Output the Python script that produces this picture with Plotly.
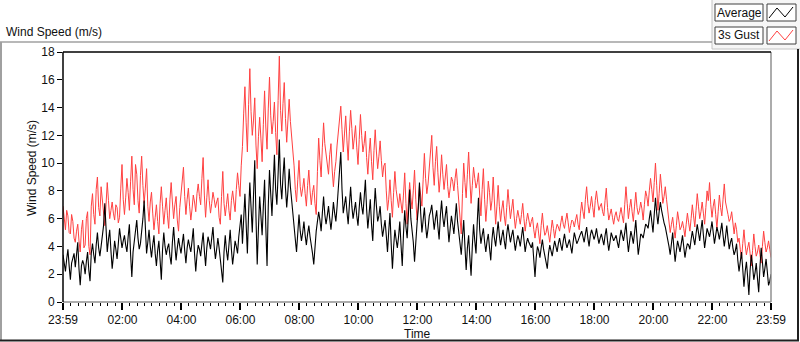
import plotly.graph_objects as go

# ---------------- data ----------------
tick_minutes = [0, 121, 241, 361, 481, 601, 721, 841, 961, 1081, 1201, 1321, 1440]
tick_labels = ["23:59", "02:00", "04:00", "06:00", "08:00", "10:00", "12:00",
               "14:00", "16:00", "18:00", "20:00", "22:00", "23:59"]
y_ticks = [0, 2, 4, 6, 8, 10, 12, 14, 16, 18]

# 3s gust, one reading every 2.5 minutes from 23:59
gust = [
    6.9, 6.1, 5.2, 6.6, 6.2, 5.0, 4.9, 6.3, 5.8, 4.6, 4.3, 5.1,
    5.6, 4.4, 3.6, 5.2, 5.9, 3.9, 4.1, 6.0, 6.5, 4.0, 3.4, 6.9,
    7.8, 6.3, 5.6, 8.1, 9.0, 6.8, 6.2, 8.3, 7.4, 6.0, 5.5, 7.0,
    8.6, 7.3, 6.0, 6.6, 7.2, 6.4, 5.9, 7.0, 6.8, 5.7, 6.1, 8.2, 9.9, 7.4,
    6.3, 7.5, 8.9, 7.9, 6.6, 8.7, 10.5, 8.1, 7.0, 9.9, 9.2, 7.3, 6.4, 9.1, 10.5, 8.4, 7.1, 8.2, 9.6, 6.9, 5.8, 7.2,
    7.9, 6.4, 5.2, 6.1, 7.0, 5.8, 4.9, 7.1, 8.3, 6.9, 5.6, 6.6, 7.5, 6.2, 5.3, 7.4, 8.6, 7.2, 6.0, 7.0, 7.6, 5.9, 5.1, 6.8, 8.0, 8.8,
    9.7, 7.6, 6.3, 7.4, 8.2, 6.9, 5.9, 6.7, 7.7, 7.2, 6.5, 7.8, 8.5, 7.6, 7.0, 8.9, 10.4, 7.7, 6.1, 7.5, 8.8, 7.3, 6.4, 7.1, 7.9, 7.4, 6.8, 7.2,
    7.5, 6.1, 5.6, 7.6, 9.4, 7.1, 6.2, 7.0, 7.8, 6.6, 5.9, 7.3, 8.0, 7.2, 6.5, 8.1, 9.3, 8.4,
    7.6, 9.8, 11.2, 13.6, 15.5, 12.9, 10.8, 14.2, 16.8, 13.7, 12.0, 13.1, 14.7, 11.3, 9.6, 11.9, 13.3, 11.8, 10.1, 12.8,
    15.2, 12.6, 11.0, 13.9, 16.2, 13.4, 12.1, 13.0, 14.4, 12.2, 10.6, 14.5, 17.7, 13.8,
    12.3, 14.3, 15.8, 13.2, 11.5, 13.1, 14.6, 13.0, 12.0, 10.9,
    9.8, 8.1, 7.2, 8.8, 10.2, 8.3, 7.6, 8.2, 8.9, 7.8, 6.9, 8.4, 9.5, 8.0,
    7.0, 7.9, 8.4, 7.1, 6.3, 9.4,
    11.8, 10.2, 9.0, 11.1, 12.9, 11.4, 10.5, 9.7,
    9.2, 10.6, 11.4, 9.5, 8.3, 9.4, 10.1, 11.3,
    12.2, 13.0, 14.1, 12.4, 10.8, 12.1,
    13.4, 11.6, 10.2, 12.3, 13.8, 12.5, 11.0, 11.8, 12.7, 11.1, 9.9, 11.7, 13.5, 12.0, 10.8, 11.4,
    12.3, 10.4, 9.2, 10.7, 11.8, 10.1, 8.8, 10.9, 12.4, 10.8, 9.6, 10.5, 11.6, 10.2, 9.0, 9.8,
    10.0, 8.0, 6.6, 7.4, 8.8, 7.3, 6.1, 7.9, 9.4, 8.1, 7.2, 6.8, 7.8, 7.0, 6.4, 7.7,
    9.3, 7.1, 5.6, 7.2, 8.6, 7.5, 6.7, 8.0, 9.5, 7.4, 5.9, 6.9, 8.4, 7.7,
    6.9, 8.8, 10.7, 8.9, 7.8, 8.5, 9.6, 10.4,
    12.0, 9.7, 8.4, 10.1, 11.2, 9.3, 7.9, 9.0, 10.6, 9.2,
    8.1, 9.0, 9.9, 8.3, 7.5, 8.2, 9.0, 8.7, 8.0, 8.9, 9.6, 8.4, 7.4, 6.1,
    4.9, 7.8, 10.0, 8.6, 7.5, 9.2, 10.8, 8.8, 7.1, 8.4, 9.7, 8.9, 8.2, 8.6, 9.3, 7.7,
    6.2, 8.1, 9.6, 7.4, 5.8, 7.0, 8.7, 7.9, 6.6, 7.3, 9.0, 7.2, 5.6, 6.9,
    8.4, 6.9, 5.8, 6.7, 7.3, 6.2, 5.5, 6.8, 8.1, 7.0, 6.0, 6.7,
    7.4, 6.2, 5.3, 6.0, 6.6, 6.1, 5.6, 6.3, 7.1, 6.0, 5.1, 5.8, 6.4, 5.9, 5.4, 5.8,
    6.1, 5.2, 4.6, 5.3, 5.7, 4.9, 4.2, 5.5, 6.4, 5.4, 4.8, 5.0, 5.5, 4.9, 4.3, 5.1, 5.9, 5.3, 4.6, 5.2, 5.6, 5.4,
    5.1, 5.7, 6.2, 5.6, 5.3, 5.9, 6.4, 5.7, 5.0, 5.5, 5.9, 5.8, 5.4, 5.9, 6.3, 5.6, 5.2, 6.4,
    7.2, 6.5, 6.0, 7.4, 8.3, 7.1, 6.4, 6.9, 7.6, 6.8, 6.1, 7.3, 8.0, 7.2, 6.6, 6.9,
    7.1, 6.5, 6.2, 7.3, 8.2, 6.8, 5.9, 6.3,
    6.7, 6.1, 5.6, 6.2, 6.5, 6.0, 5.8, 6.3, 6.8, 6.2,
    5.7, 7.0, 8.3, 7.1, 6.0, 6.8, 7.4, 6.5, 5.8, 6.9, 7.9, 6.8, 6.3, 6.6, 7.2, 6.7, 5.9, 7.0, 8.0, 7.6,
    6.9, 8.0, 8.9, 8.1, 7.2, 8.6, 10.0, 8.4, 6.6, 7.8, 9.2, 8.2, 7.1, 7.6, 8.3, 7.4,
    6.7, 5.8, 5.0, 5.6, 6.1, 5.3, 4.6, 5.5, 6.5, 5.9, 5.2, 5.4, 5.8, 5.3, 4.7, 5.6, 6.4, 5.7, 5.1, 6.0,
    7.0, 6.2, 5.4, 6.6, 7.8, 6.9, 6.0, 6.5, 7.2, 6.4, 5.6, 6.8, 8.0, 7.3, 8.6, 7.0, 6.1, 6.9, 7.4, 6.3,
    5.3, 6.5, 7.7, 6.8, 6.2, 7.4, 8.5, 7.2, 6.6, 6.3,
    5.8, 6.0, 6.5, 5.5, 4.9, 5.7, 5.2, 4.3,
    4.6, 3.8, 3.1, 4.2, 5.2, 4.1, 3.4, 3.9, 4.3, 3.5, 2.6, 3.7, 4.9, 4.0, 3.3, 3.6, 4.1, 3.4, 2.8, 4.0,
    5.1, 4.3, 3.6, 3.9, 4.4, 3.8, 3.2,
]

# average wind speed, same timestamps
average = [
    3.4, 2.9, 2.2, 3.1, 3.8, 2.6, 1.6, 2.8, 3.1, 3.5, 2.5, 3.3, 4.3, 2.4, 1.2, 2.6, 3.0, 2.7, 2.0, 2.9, 3.6, 2.3, 1.5, 3.5,
    4.2, 3.4, 2.8, 4.1, 5.0, 3.9, 3.3, 4.0, 4.6, 5.5, 7.1, 4.8, 3.6, 4.5, 5.2, 3.7, 2.4, 3.3, 4.4, 3.8, 3.1, 4.2, 5.3, 4.6, 3.9, 4.4,
    4.8, 4.1, 3.6, 4.7, 5.6, 3.4, 1.8, 3.6, 4.5, 5.0, 5.9, 4.6, 3.8, 4.2, 4.9, 6.0, 7.3, 5.1, 3.5, 4.3, 5.2, 4.0,
    3.2, 4.1, 4.8, 3.5, 2.6, 3.7, 4.4, 3.0, 1.6, 3.8, 5.0, 4.0, 3.4, 3.9, 4.2, 3.3, 2.7, 4.3, 5.4, 4.1, 3.0, 3.9, 4.6, 4.0, 3.5, 4.2,
    4.9, 3.7, 2.8, 3.9, 4.5, 4.0, 3.6, 4.4, 5.3, 3.5, 2.2, 3.4, 4.1, 3.8, 3.3, 4.2, 5.0, 3.7, 2.6, 3.9, 4.7, 4.3, 3.8, 4.6, 5.4, 4.0, 3.1, 3.8,
    4.6, 3.9, 3.2, 2.5, 1.4, 3.6, 4.8, 3.7, 3.0, 4.1, 5.2, 3.8, 2.7, 3.5, 4.4, 4.0, 3.5, 4.7,
    5.4, 6.3, 4.2, 5.9, 7.8, 5.6, 3.5, 6.4, 8.6, 6.8, 5.0, 7.7, 10.2, 6.1, 2.7, 5.3, 7.6, 6.2, 4.8, 6.9,
    8.8, 5.4, 2.6, 6.9, 9.5, 7.8, 6.2, 8.4, 10.6, 8.1, 7.0, 9.2, 11.7, 8.5,
    7.4, 9.1, 10.4, 8.2, 6.8, 8.0, 9.6, 8.3, 7.2, 6.1,
    5.0, 4.5, 3.6, 5.2, 6.3, 5.1, 4.4, 5.0, 5.8, 4.8, 4.1, 4.9, 5.5, 4.7,
    4.2, 3.5, 2.7, 4.3, 5.1, 5.8,
    6.5, 5.9, 5.1, 6.4, 7.6, 6.3, 5.6, 6.2, 6.9, 6.0, 5.2, 6.1, 7.2, 6.4, 5.8, 6.9,
    8.0, 9.3, 10.8, 8.1, 6.4, 7.0,
    7.6, 6.5, 5.6, 7.0, 8.3, 6.9, 6.0, 6.6, 7.2, 6.2, 5.5, 6.8, 7.9, 6.9, 6.3, 7.5,
    8.8, 6.7, 5.3, 6.3, 7.4, 5.6, 4.4, 6.5, 8.2, 6.9, 5.8, 6.2, 6.9, 5.6, 4.7, 5.3,
    5.9, 4.8, 3.6, 5.1, 6.4, 4.2, 2.4, 4.0, 5.2, 4.5, 3.9, 4.7, 5.8, 4.1, 2.6, 4.9,
    6.6, 5.4, 4.6, 6.3, 8.1, 6.0, 5.2, 4.3, 2.9, 4.5, 5.6, 6.7, 8.6, 6.4,
    5.0, 5.9, 6.8, 5.5, 4.6, 5.3, 6.2, 6.5,
    7.0, 6.1, 5.2, 6.0, 6.6, 5.4, 4.5, 6.2, 7.3, 6.1,
    5.4, 6.2, 6.9, 5.5, 4.3, 5.3, 6.2, 5.6, 4.9, 6.0, 7.1, 5.8, 5.0, 4.1,
    3.4, 4.7, 5.9, 4.0, 2.3, 3.9, 4.8, 3.2, 1.9, 4.0, 5.6, 4.4, 3.5, 5.7, 7.5, 5.2,
    4.2, 4.8, 5.3, 4.3, 3.6, 4.4, 4.9, 3.9, 3.0, 4.5, 5.4, 4.6, 4.0, 4.9,
    5.8, 4.8, 4.1, 4.7, 5.2, 4.4, 3.8, 4.9, 5.6, 4.9, 4.3, 4.8,
    5.2, 4.4, 3.7, 4.3, 4.8, 4.5, 4.0, 4.7, 5.4, 4.5, 3.6, 4.2, 4.6, 4.3, 4.1, 3.9,
    4.3, 3.1, 1.8, 3.2, 4.0, 3.7, 3.2, 3.9, 4.5, 3.8, 3.4, 3.0, 2.4, 3.5, 4.1, 3.7, 3.3, 3.9, 4.4, 4.0, 3.6, 4.2,
    4.6, 4.1, 3.7, 4.4, 4.9, 4.3, 3.9, 4.2, 4.5, 4.0, 3.5, 4.3, 5.0, 4.6, 4.2, 4.4, 4.7, 4.9,
    5.1, 4.7, 4.3, 4.9, 5.4, 4.6, 4.0, 4.8, 5.2, 4.9, 4.5, 4.8, 5.3, 4.7, 4.2, 4.6,
    4.9, 4.5, 4.1, 4.8, 5.3, 4.4, 3.7, 4.3, 5.0, 4.7, 4.4, 4.6, 4.8, 4.3, 3.9, 4.6, 5.2, 4.8,
    4.4, 5.0, 5.7, 4.5, 3.6, 4.4, 5.1, 4.7, 4.2, 5.0, 5.9, 4.6, 3.4, 4.1, 4.9, 4.8, 4.6, 5.1, 5.6, 5.5,
    5.3, 6.0, 6.6, 5.8, 5.0, 6.3, 7.5, 6.4, 5.6, 6.5, 7.2, 6.6, 6.0, 5.7, 5.4, 5.0,
    4.6, 4.0, 3.4, 4.3, 5.0, 3.9, 2.9, 3.7, 4.4, 4.0, 3.6, 4.2, 4.8, 4.0, 3.2, 3.8, 4.2, 4.1, 3.8, 4.5,
    5.1, 4.6, 4.1, 4.9, 5.6, 5.0, 4.4, 5.2, 5.9, 4.8, 3.9, 4.6, 5.3, 5.0, 4.7,
    5.2, 5.8, 5.0, 4.2, 4.8, 5.4, 5.0, 4.5, 5.1, 5.7, 4.8, 4.0, 4.7, 5.5, 4.6,
    3.8, 4.3, 4.6, 3.9, 3.4, 3.7, 4.2, 3.0,
    2.2, 2.9, 3.6, 2.4, 1.1, 2.2, 2.9, 1.8, 0.5, 2.3, 3.4, 2.6, 1.6, 2.1,
    2.8, 1.7, 0.7, 2.5, 3.9, 2.9, 1.8, 2.4, 3.1, 2.2, 1.2, 1.5, 2.0,
]

# ---------------- layout helpers (pixel -> paper) ----------------
W, H = 800, 342
L, R, T, B = 63, 771, 52, 302


def px(x):
    return (x - L) / (R - L)


def py(y):
    return (B - y) / (B - T)


FONT = "Liberation Sans"
TXT = "#101010"


def xs(series):
    n = len(series)
    return [i * 1440 / (n - 1) for i in range(n)]


fig = go.Figure()
fig.add_trace(go.Scatter(x=xs(gust), y=gust, mode="lines", name="3s Gust",
                         line=dict(color="#ff4040", width=1)))
fig.add_trace(go.Scatter(x=xs(average), y=average, mode="lines", name="Average",
                         line=dict(color="#000000", width=1.1)))

shapes = []


def line(x0, y0, x1, y1, color, width):
    shapes.append(dict(type="line", xref="paper", yref="paper",
                       x0=px(x0), y0=py(y0), x1=px(x1), y1=py(y1),
                       line=dict(color=color, width=width), layer="above"))


def rect(x0, y0, x1, y1, fill, color, width, layer="above"):
    shapes.append(dict(type="rect", xref="paper", yref="paper",
                       x0=px(x0), y0=py(y0), x1=px(x1), y1=py(y1),
                       fillcolor=fill, line=dict(color=color, width=width), layer=layer))


# outer panel frame
line(0, 42, 712, 42, "#a0a0a0", 1.5)
line(1, 42, 1, 341, "#a0a0a0", 2)
line(0, 340.5, 799, 340.5, "#202020", 2)
line(798, 49, 798, 341, "#202020", 2)
# legend panel
rect(712, -2, 802, 49, "#f6f6f6", "#c4c4c4", 1, layer="below")
# plot area frame
line(R, T, R, B, "#909090", 1.5)
line(L, B, R, B, "#909090", 1.5)
line(L, T, R, T, "#000000", 1.5)
line(L, T, L, B, "#000000", 1.5)
# legend boxes
for (y0, y1, col) in [(4, 21, "#000000"), (27, 44, "#ff4040")]:
    rect(715, y0, 763, y1, "#ffffff", "#404040", 1)
    rect(767, y0, 796, y1, "#ffffff", "#404040", 1)
    pts = [(769, y1 - 3), (777, y0 + 4), (785, y1 - 4), (793, y0 + 3)]
    path = "M " + " L ".join(f"{px(a)},{py(b)}" for a, b in pts)
    shapes.append(dict(type="path", xref="paper", yref="paper", path=path,
                       line=dict(color=col, width=1), layer="above"))

annotations = [
    dict(text="Wind Speed (m/s)", x=px(4), y=py(32), xref="paper", yref="paper",
         xanchor="left", yanchor="middle", showarrow=False,
         font=dict(family=FONT, size=12, color=TXT)),
    dict(text="Average", x=px(739), y=py(12.5), xref="paper", yref="paper",
         xanchor="center", yanchor="middle", showarrow=False,
         font=dict(family=FONT, size=12, color=TXT)),
    dict(text="3s Gust", x=px(739), y=py(35.5), xref="paper", yref="paper",
         xanchor="center", yanchor="middle", showarrow=False,
         font=dict(family=FONT, size=12, color=TXT)),
    dict(text="Wind Speed (m/s)", x=px(32), y=py(168), xref="paper", yref="paper",
         xanchor="center", yanchor="middle", showarrow=False, textangle=-90,
         font=dict(family=FONT, size=12, color=TXT)),
    dict(text="Time", x=px(417), y=py(334), xref="paper", yref="paper",
         xanchor="center", yanchor="middle", showarrow=False,
         font=dict(family=FONT, size=12, color=TXT)),
]

fig.update_layout(
    width=W, height=H,
    margin=dict(l=L, r=W - R, t=T, b=H - B, pad=0),
    paper_bgcolor="white", plot_bgcolor="white",
    showlegend=False,
    shapes=shapes, annotations=annotations,
    font=dict(family=FONT, size=12, color=TXT),
    xaxis=dict(range=[0, 1440], tickmode="array", tickvals=tick_minutes,
               ticktext=tick_labels, ticks="outside", ticklen=7, tickwidth=2,
               tickcolor="#000000", showgrid=False, zeroline=False, showline=False,
               tickfont=dict(family=FONT, size=12, color=TXT),
               minor=dict(tickmode="linear", tick0=1, dtick=15, ticks="outside",
                          ticklen=3, tickwidth=1, tickcolor="#000000", showgrid=False)),
    yaxis=dict(range=[0, 18], tickmode="array", tickvals=y_ticks,
               ticks="outside", ticklen=5, tickwidth=1, tickcolor="#000000",
               showgrid=False, zeroline=False, showline=False,
               tickfont=dict(family=FONT, size=12, color=TXT)),
)

fig.write_html("out.html",
               config={"displayModeBar": False, "staticPlot": True},
               post_script="document.body.style.margin='0';document.body.style.overflow='hidden';")
